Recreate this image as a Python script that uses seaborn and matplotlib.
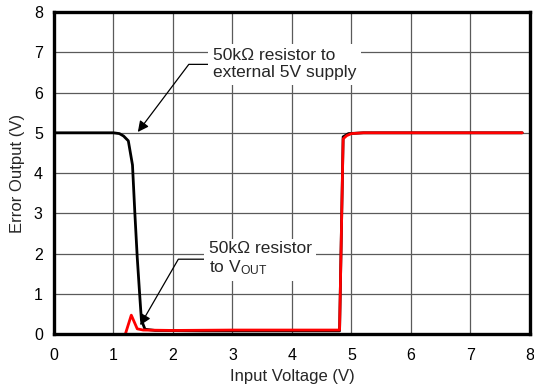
import numpy as np
import pandas as pd
import matplotlib
matplotlib.use("Agg")
import matplotlib.pyplot as plt
import seaborn as sns

# Black: 50kOhm resistor to external 5V supply
ext_x = [0.0, 0.5, 1.0, 1.1, 1.17, 1.25, 1.32, 1.36, 1.40, 1.44, 1.47, 1.53, 1.7,
         2.5, 3.5, 4.5, 4.8, 4.83, 4.86, 4.95, 5.2, 6.0, 7.0, 7.87]
ext_y = [5.0, 5.0, 5.0, 4.98, 4.92, 4.8, 4.2, 3.0, 1.9, 1.0, 0.35, 0.12, 0.09,
         0.08, 0.08, 0.08, 0.08, 2.5, 4.9, 4.98, 5.0, 5.0, 5.0, 5.0]
# Red: 50kOhm resistor to VOUT (hidden under the axis before ~1.2 V)
vout_x = [1.2, 1.30, 1.40, 1.5, 2.0, 3.0, 4.0, 4.8, 4.86, 4.92, 5.0, 5.2,
          6.0, 7.0, 7.87]
vout_y = [0.0, 0.47, 0.13, 0.1, 0.09, 0.1, 0.1, 0.1, 4.85, 4.93, 4.98, 5.0,
          5.0, 5.0, 5.0]

x_ticks = [0, 1, 2, 3, 4, 5, 6, 7, 8]
y_ticks = [0, 1, 2, 3, 4, 5, 6, 7, 8]

sns.set_style("white")
plt.rcParams['font.family'] = ['Liberation Sans', 'DejaVu Sans']
plt.rcParams['mathtext.default'] = 'regular'

fig = plt.figure(figsize=(5.34, 3.88), dpi=100)
ax = fig.add_axes([0.101, 0.139, 0.8915, 0.830])

df_ext = pd.DataFrame({"x": ext_x, "y": ext_y})
df_vout = pd.DataFrame({"x": vout_x, "y": vout_y})
sns.lineplot(data=df_ext, x="x", y="y", sort=False, color="black", lw=2.0, ax=ax, zorder=3)
sns.lineplot(data=df_vout, x="x", y="y", sort=False, color="#ff0000", lw=2.0, ax=ax, zorder=4)

ax.set_xlim(0, 8)
ax.set_ylim(0, 8)
ax.set_xticks(x_ticks)
ax.set_yticks(y_ticks)
ax.grid(True, color="#5a5a5a", lw=0.9)
ax.tick_params(length=0, labelsize=11.5, colors="black")
ax.tick_params(axis="x", pad=10)
ax.tick_params(axis="y", pad=8)
for s in ax.spines.values():
    s.set_visible(True)
    s.set_linewidth(2.4)
    s.set_color("black")
    s.set_zorder(5)
ax.set_xlabel("Input Voltage (V)", fontsize=12, labelpad=4)
ax.set_ylabel("Error Output (V)", fontsize=12, labelpad=6)

ax.annotate("50k\u03A9 resistor to\nexternal 5V supply",
            xy=(1.41, 5.02), xytext=(2.67, 6.7), fontsize=12.5,
            va="center", ha="left", zorder=6, linespacing=1.15,
            bbox=dict(boxstyle="square,pad=0.25", fc="white", ec="none"),
            arrowprops=dict(arrowstyle="-|>", color="black", lw=0.9, mutation_scale=16,
                            shrinkA=0, shrinkB=0, relpos=(0, 0.5),
                            connectionstyle="angle,angleA=0,angleB=53,rad=0"))
ax.annotate("50k\u03A9 resistor\nto V$_{OUT}$",
            xy=(1.45, 0.22), xytext=(2.6, 1.86), fontsize=12.5,
            va="center", ha="left", zorder=6, linespacing=1.15,
            bbox=dict(boxstyle="square,pad=0.25", fc="white", ec="none"),
            arrowprops=dict(arrowstyle="-|>", color="black", lw=0.9, mutation_scale=16,
                            shrinkA=0, shrinkB=0, relpos=(0, 0.5),
                            connectionstyle="angle,angleA=0,angleB=60,rad=0"))

fig.savefig("out.png", dpi=100)
